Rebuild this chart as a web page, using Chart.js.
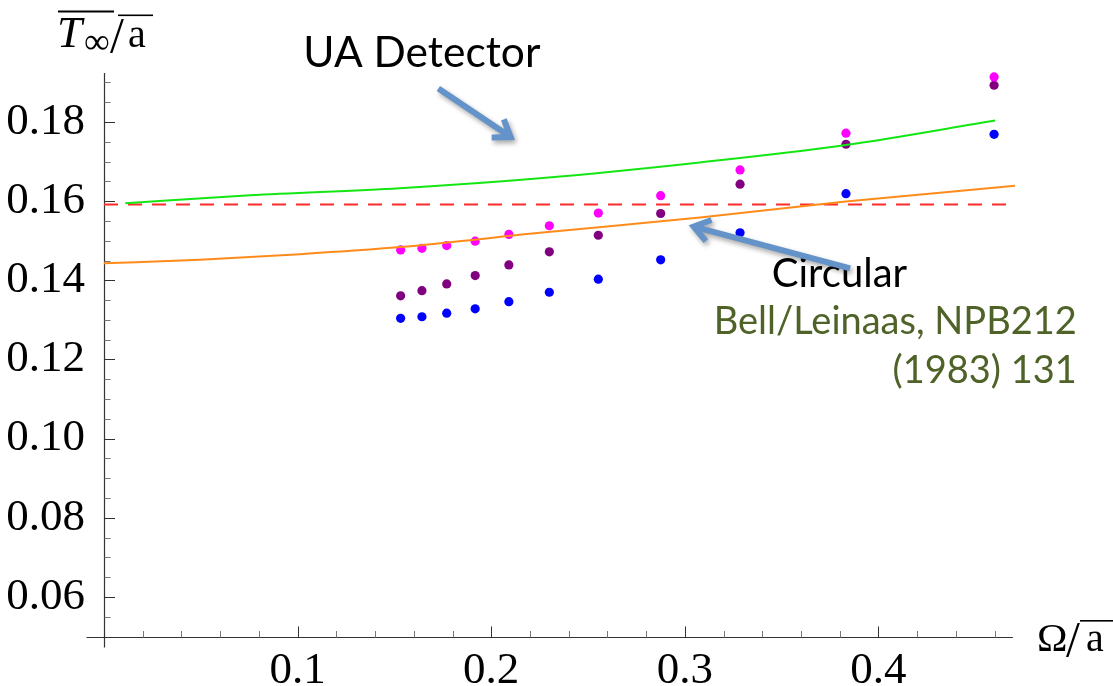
<!DOCTYPE html>
<html>
<head>
<meta charset="utf-8">
<script src="https://cdn.jsdelivr.net/npm/chart.js@4/dist/chart.umd.min.js"></script>
<style>
  html, body { margin: 0; padding: 0; background: #ffffff; }
  canvas { display: block; }
</style>
</head>
<body>
<canvas id="chart" width="1113" height="686"></canvas>
<script>
// Detector temperature (units of sqrt(a)) against angular velocity Omega/sqrt(a)
const omegaValues = [0.1532, 0.1642, 0.1770, 0.1917, 0.2091, 0.2300, 0.2553, 0.2875, 0.3285, 0.3832, 0.4597];
const tempMagenta = [0.1477, 0.1481, 0.1488, 0.1499, 0.1516, 0.1538, 0.1570, 0.1614, 0.1679, 0.1772, 0.1914];
const tempPurple  = [0.1361, 0.1374, 0.1391, 0.1412, 0.1439, 0.1472, 0.1514, 0.1569, 0.1643, 0.1744, 0.1893];
const tempBlue    = [0.1304, 0.1308, 0.1317, 0.1328, 0.1346, 0.1370, 0.1403, 0.1452, 0.1520, 0.1619, 0.1769];

// UA detector curve
const uaOmega = [0.011, 0.0754, 0.1528, 0.2251, 0.3078, 0.3831, 0.4602];
const uaTemp  = [0.1595, 0.1615, 0.1633, 0.1658, 0.1698, 0.1742, 0.1804];

// Circular motion curve (Bell/Leinaas)
const circOmega = [0, 0.0496, 0.1012, 0.1528, 0.2251, 0.3078, 0.3831, 0.4705];
const circTemp  = [0.1443, 0.1452, 0.1466, 0.1484, 0.1520, 0.1559, 0.1599, 0.1639];

// Unruh temperature 1/(2*pi)
const unruhOmega = [0, 0.4705];
const unruhTemp  = [0.159155, 0.159155];

// Labelled ticks
const xTickValues = [0.1, 0.2, 0.3, 0.4];
const yTickValues = [0.06, 0.08, 0.10, 0.12, 0.14, 0.16, 0.18];

const X_MIN = 0, X_MAX = 0.4705;
const Y_MIN = 0.05, Y_MAX = 0.1924;

const SERIF = '"Liberation Serif", "Times New Roman", serif';
const SANS = 'Lato, "Open Sans", sans-serif';

const pairs = (xs, ys) => xs.map((x, i) => ({ x, y: ys[i] }));

// Annotations, placed in data coordinates
const notes = [
  { text: 'UA Detector', x: 0.10295, y: 0.19397, size: 42.5, color: '#000000', align: 'left' },
  { text: 'Circular', x: 0.34489, y: 0.13839, size: 40, color: '#000000', align: 'left' },
  { text: 'Bell/Leinaas, NPB212', x: 0.50243, y: 0.12644, size: 38, color: '#4f6228', align: 'right' },
  { text: '(1983) 131', x: 0.50243, y: 0.11398, size: 38, color: '#4f6228', align: 'right' }
];
const arrows = [
  { from: [0.17268, 0.18851], to: [0.21002, 0.17621] },
  { from: [0.38533, 0.14304], to: [0.30455, 0.15360] }
];

function drawArrow(ctx, x1, y1, x2, y2) {
  const ang = Math.atan2(y2 - y1, x2 - x1);
  const head = 19, spread = 35 * Math.PI / 180;
  ctx.save();
  ctx.strokeStyle = '#6393c8';
  ctx.lineWidth = 6;
  ctx.lineCap = 'butt';
  ctx.lineJoin = 'miter';
  ctx.shadowColor = 'rgba(0,0,0,0.35)';
  ctx.shadowBlur = 5;
  ctx.shadowOffsetX = 2;
  ctx.shadowOffsetY = 3;
  ctx.beginPath();
  ctx.moveTo(x1, y1);
  ctx.lineTo(x2, y2);
  ctx.moveTo(x2 - head * Math.cos(ang - spread), y2 - head * Math.sin(ang - spread));
  ctx.lineTo(x2, y2);
  ctx.lineTo(x2 - head * Math.cos(ang + spread), y2 - head * Math.sin(ang + spread));
  ctx.stroke();
  ctx.restore();
}

// Axes crossing at the origin with inward ticks, plus axis titles and notes
const framePlugin = {
  id: 'frame',
  beforeDatasetsDraw(chart) {
    const { ctx } = chart;
    const xs = chart.scales.x, ys = chart.scales.y;
    const x0 = Math.round(xs.getPixelForValue(X_MIN)) + 0.5;
    const y0 = Math.round(ys.getPixelForValue(Y_MIN)) + 0.5;
    ctx.save();
    ctx.strokeStyle = '#333333';
    ctx.lineWidth = 1.2;
    ctx.beginPath();
    ctx.moveTo(x0 - 18, y0);
    ctx.lineTo(xs.getPixelForValue(0.4694), y0);
    ctx.moveTo(x0, ys.getPixelForValue(Y_MAX));
    ctx.lineTo(x0, y0 + 10);
    ctx.stroke();

    ctx.lineWidth = 1;
    // horizontal axis: minor every 0.02, major every 0.1
    for (let i = 1; i * 0.02 <= 0.465; i++) {
      const px = Math.round(xs.getPixelForValue(i * 0.02)) + 0.5;
      const major = i % 5 === 0;
      ctx.strokeStyle = major ? '#333333' : '#777777';
      ctx.beginPath();
      ctx.moveTo(px, y0);
      ctx.lineTo(px, y0 - (major ? 11 : 6.5));
      ctx.stroke();
    }
    // vertical axis: minor every 0.005, major every 0.02
    for (let i = 1; Y_MIN + i * 0.005 <= 0.1905; i++) {
      const py = Math.round(ys.getPixelForValue(Y_MIN + i * 0.005)) + 0.5;
      const major = i % 4 === 2;
      ctx.strokeStyle = major ? '#333333' : '#777777';
      ctx.beginPath();
      ctx.moveTo(x0, py);
      ctx.lineTo(x0 + (major ? 10.5 : 6), py);
      ctx.stroke();
    }
    ctx.restore();
  },
  afterDraw(chart) {
    const { ctx } = chart;
    const xs = chart.scales.x, ys = chart.scales.y;
    ctx.save();
    ctx.fillStyle = '#000000';
    ctx.textAlign = 'left';
    ctx.textBaseline = 'alphabetic';

    // vertical axis title: overline(T_inf) / sqrt(a)
    ctx.font = 'italic 45px ' + SERIF;
    ctx.fillText('T', 57, 47);
    ctx.font = '36px ' + SERIF;
    ctx.fillText('\u221E', 84, 53);
    ctx.font = '50px ' + SERIF;
    ctx.fillText('/', 110, 52);
    ctx.font = '40px ' + SERIF;
    ctx.fillText('a', 128, 47);
    ctx.fillRect(58, 10.5, 56, 2);
    ctx.fillRect(118, 14.5, 35, 1.6);

    // horizontal axis title: Omega / sqrt(a)
    ctx.font = '41px ' + SERIF;
    ctx.fillText('\u03A9', 1037, 651);
    ctx.font = '50px ' + SERIF;
    ctx.fillText('/', 1066, 656);
    ctx.font = '40px ' + SERIF;
    ctx.fillText('a', 1086, 651);
    ctx.fillRect(1080, 620, 33, 1.6);

    // notes
    notes.forEach(n => {
      ctx.font = n.size + 'px ' + SANS;
      ctx.fillStyle = n.color;
      ctx.textAlign = n.align;
      ctx.fillText(n.text, xs.getPixelForValue(n.x), ys.getPixelForValue(n.y));
    });
    ctx.restore();

    arrows.forEach(a => drawArrow(ctx,
      xs.getPixelForValue(a.from[0]), ys.getPixelForValue(a.from[1]),
      xs.getPixelForValue(a.to[0]), ys.getPixelForValue(a.to[1])));
  }
};

const pointSet = (label, ys, color) => ({
  label,
  data: pairs(omegaValues, ys),
  showLine: false,
  pointRadius: 4.6,
  pointHoverRadius: 4.6,
  pointBorderWidth: 0,
  pointBackgroundColor: color,
  backgroundColor: color,
  borderColor: color,
  clip: false
});

const lineSet = (label, xs, ys, color, dash) => ({
  label,
  data: pairs(xs, ys),
  showLine: true,
  borderColor: color,
  borderWidth: 2,
  borderDash: dash || [],
  pointRadius: 0,
  pointHoverRadius: 0,
  cubicInterpolationMode: 'monotone',
  fill: false
});

new Chart(document.getElementById('chart'), {
  type: 'scatter',
  data: {
    datasets: [
      lineSet('UA Detector', uaOmega, uaTemp, '#14e614'),
      lineSet('Circular', circOmega, circTemp, '#ff8c1a'),
      lineSet('Unruh', unruhOmega, unruhTemp, '#ff2a2a', [14, 10]),
      pointSet('Series 1', tempMagenta, '#ff00ff'),
      pointSet('Series 2', tempPurple, '#800080'),
      pointSet('Series 3', tempBlue, '#0000ff')
    ]
  },
  options: {
    responsive: false,
    animation: false,
    devicePixelRatio: 1,
    layout: { padding: { left: 0, top: 73, right: 98, bottom: 0 } },
    plugins: {
      legend: { display: false },
      tooltip: { enabled: false }
    },
    scales: {
      x: {
        type: 'linear',
        min: X_MIN,
        max: X_MAX,
        grid: { display: false },
        border: { display: false },
        afterBuildTicks: s => { s.ticks = xTickValues.map(v => ({ value: v })); },
        afterFit: s => { s.height = 49.5; },
        ticks: {
          padding: 0,
          autoSkip: false,
          maxRotation: 0,
          color: '#000000',
          font: { family: SERIF, size: 45 },
          callback: v => Number(v).toFixed(1)
        }
      },
      y: {
        type: 'linear',
        min: Y_MIN,
        max: Y_MAX,
        grid: { display: false },
        border: { display: false },
        afterBuildTicks: s => { s.ticks = yTickValues.map(v => ({ value: v })); },
        afterFit: s => { s.width = 104; },
        ticks: {
          padding: 11,
          autoSkip: false,
          color: '#000000',
          font: { family: SERIF, size: 45 },
          callback: v => Number(v).toFixed(2)
        }
      }
    }
  },
  plugins: [framePlugin]
});
</script>
</body>
</html>
